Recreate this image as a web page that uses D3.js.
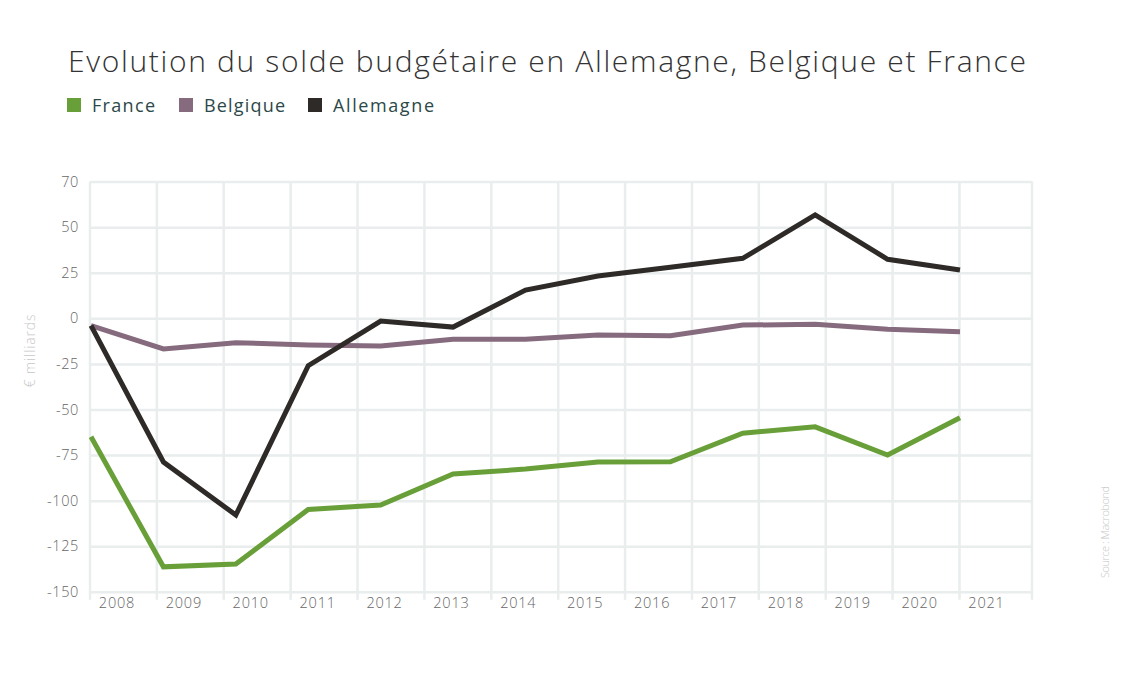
<!DOCTYPE html>
<html>
<head>
<meta charset="utf-8">
<script src="https://cdn.jsdelivr.net/npm/d3@7"></script>
<style>
  body { margin: 0; background: #fff; }
  svg text { font-family: "Open Sans", Lato, sans-serif; }
</style>
</head>
<body>
<svg id="chart" width="1130" height="678"></svg>
<script>
// donnees (milliards d'euros)
const years = [2008, 2009, 2010, 2011, 2012, 2013, 2014, 2015, 2016, 2017, 2018, 2019, 2020]
const france = [-65, -136.3, -134.8, -104.8, -102.4, -85.4, -82.7, -78.8, -78.7, -63, -59.5, -75, -54.5]
const belgique = [-4, -16.8, -13.4, -14.6, -15.2, -11.5, -11.5, -9.2, -9.5, -3.7, -3.3, -6, -7.3]
const allemagne = [-4, -78.8, -107.9, -26, -1.5, -4.8, 15.5, 23.2, 28, 32.9, 56.7, 32.4, 26.5]

const axisYears = [2008, 2009, 2010, 2011, 2012, 2013, 2014, 2015, 2016, 2017, 2018, 2019, 2020, 2021]
const yTicks = [-150, -125, -100, -75, -50, -25, 0, 25, 50, 75]
const yTickLabels = ['-150', '-125', '-100', '-75', '-50', '-25', '0', '25', '50', '70']

const series = [
  { name: 'France', values: france, color: '#689f38' },
  { name: 'Belgique', values: belgique, color: '#866b7e' },
  { name: 'Allemagne', values: allemagne, color: '#2e2a28' }
]

const svg = d3.select('#chart')

const plotLeft = 90
const plotRight = 1032
const plotTop = 181.6
const plotBottom = 591.8

// echelles
const xGrid = d3.scaleLinear().domain([2008, 2021]).range([plotLeft, 959.5])
const xData = d3.scaleLinear().domain([2008, 2020]).range([plotLeft + 1, 960])
const yScale = d3.scaleLinear().domain([-150, 75]).range([plotBottom, plotTop])

const gridColor = '#e9eded'
const tickColor = '#666666'

// grille horizontale
svg.append('g')
  .attr('transform', `translate(${plotLeft}, 0)`)
  .call(d3.axisLeft(yScale)
    .tickValues(yTicks)
    .tickSize(-(plotRight - plotLeft))
    .tickPadding(12)
    .tickFormat((d, i) => yTickLabels[i]))
  .call(g => g.select('.domain').remove())
  .call(g => g.selectAll('.tick line').style('stroke', gridColor).style('stroke-width', 2.5))
  .call(g => g.selectAll('.tick text')
    .style('fill', tickColor).style('font-size', '14.5px').style('font-weight', 300)
    .style('letter-spacing', '0.6px')
    .attr('x', -11))

// grille verticale
const vLines = axisYears.map(y => xGrid(y)).concat([plotRight])
svg.append('g')
  .selectAll('line')
  .data(vLines)
  .enter()
  .append('line')
  .attr('x1', d => d).attr('x2', d => d)
  .attr('y1', plotTop).attr('y2', plotBottom + 8)
  .style('stroke', gridColor)
  .style('stroke-width', 2.5)

// etiquettes des annees
svg.append('g')
  .selectAll('text')
  .data(axisYears)
  .enter()
  .append('text')
  .attr('x', d => xGrid(d) + 27)
  .attr('y', 604)
  .attr('dominant-baseline', 'middle')
  .style('text-anchor', 'middle')
  .style('fill', tickColor)
  .style('font-size', '14.5px')
  .style('font-weight', 300)
  .style('letter-spacing', '0.8px')
  .text(d => d)

// courbes
const line = d3.line()
  .x((d, i) => xData(years[i]))
  .y(d => yScale(d))

svg.append('g')
  .selectAll('path')
  .data(series)
  .enter()
  .append('path')
  .attr('d', d => line(d.values))
  .style('fill', 'none')
  .style('stroke', d => d.color)
  .style('stroke-width', 5)

// titre
svg.append('text')
  .attr('x', 68)
  .attr('y', 72)
  .attr('textLength', 958)
  .attr('lengthAdjust', 'spacing')
  .style('font-size', '30px')
  .style('font-weight', 300)
  .style('fill', '#333333')
  .text('Evolution du solde budgétaire en Allemagne, Belgique et France')

// legende
const legendX = [67, 179, 308]
const legendW = [63, 81, 101]
const legend = svg.append('g')
  .selectAll('g')
  .data(series)
  .enter()
  .append('g')
  .attr('transform', (d, i) => `translate(${legendX[i]}, 98)`)
legend.append('rect')
  .attr('width', 14).attr('height', 14)
  .style('fill', d => d.color)
legend.append('text')
  .attr('x', 25)
  .attr('y', 13.5)
  .attr('textLength', (d, i) => legendW[i])
  .attr('lengthAdjust', 'spacing')
  .style('font-size', '18px')
  .style('fill', '#2c4848')
  .text(d => d.name)

// titre axe y
svg.append('text')
  .attr('transform', 'rotate(-90)')
  .attr('x', -351)
  .attr('y', 35)
  .attr('textLength', 73)
  .attr('lengthAdjust', 'spacing')
  .style('text-anchor', 'middle')
  .style('fill', '#c8c8c8')
  .style('font-size', '14px')
  .style('font-weight', 300)
  .text('€ milliards')

// source
svg.append('text')
  .attr('transform', 'rotate(-90)')
  .attr('x', -578)
  .attr('y', 1109)
  .attr('textLength', 92)
  .attr('lengthAdjust', 'spacing')
  .style('fill', '#c8c8c8')
  .style('font-size', '11px')
  .style('font-weight', 300)
  .text('Source : Macrobond')
</script>
</body>
</html>
